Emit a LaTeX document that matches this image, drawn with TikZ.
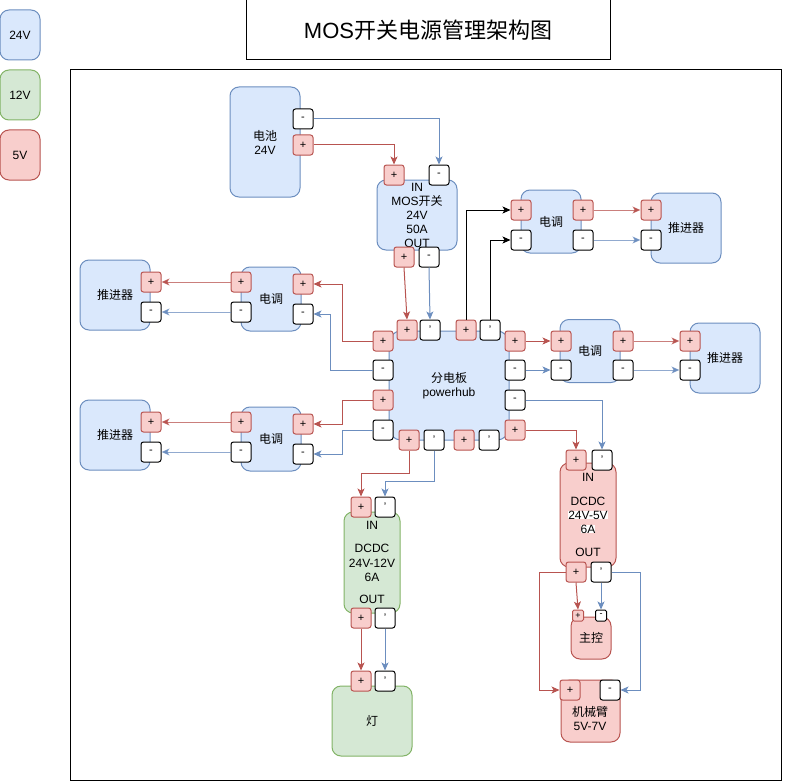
\documentclass[tikz,border=0pt]{standalone}
\usepackage{fontspec}
\setmainfont{Liberation Sans}
\newfontfamily\cjk{Noto Sans CJK SC}
\usetikzlibrary{arrows.meta}
\definecolor{bF}{HTML}{DAE8FC}\definecolor{bS}{HTML}{6C8EBF}
\definecolor{gF}{HTML}{D5E8D4}\definecolor{gS}{HTML}{82B366}
\definecolor{rF}{HTML}{F8CECC}\definecolor{rS}{HTML}{B85450}
\tikzset{
  body/.style={draw, line width=1pt, rounded corners=9pt, inner sep=0pt, align=center, font=\fontsize{12}{14}\selectfont},
  bb/.style={body, draw=bS, fill=bF},
  gb/.style={body, draw=gS, fill=gF},
  rb/.style={body, draw=rS, fill=rF},
  port/.style={draw, line width=1pt, rounded corners=2.5pt, minimum width=20pt, minimum height=20pt, inner sep=0pt, font=\fontsize{11}{11}\selectfont},
  pp/.style={port, draw=rS, fill=rF},
  pm/.style={port, draw=black, fill=white},
  spp/.style={pp, minimum width=11pt, minimum height=11pt, rounded corners=1.5pt, font=\fontsize{9}{9}\selectfont},
  spm/.style={pm, minimum width=11pt, minimum height=11pt, rounded corners=1.5pt, font=\fontsize{9}{9}\selectfont},
  txt/.style={inner sep=0pt, font=\fontsize{12}{14}\selectfont, align=center},
  wire/.style={line width=1pt, -{Stealth[length=8pt,width=7pt,inset=2pt]}},
  rw/.style={wire, draw=rS, color=rS},
  bw/.style={wire, draw=bS, color=bS},
  kw/.style={wire, draw=black, color=black},
  lr/.style={rw, draw opacity=0.75},
  lb/.style={bw, draw opacity=0.75},
}
\begin{document}
\begin{tikzpicture}[x=1pt,y=-1pt]
\useasboundingbox (0,0) rectangle (811,781);
% legend
\node[bb, minimum width=40pt, minimum height=50pt] (l24) at (20,35) {24V};
\node[gb, minimum width=40pt, minimum height=50pt] (l12) at (20,95) {12V};
\node[rb, minimum width=40pt, minimum height=50pt] (l5) at (20,155) {5V};
% title and frame
\node[draw, line width=1pt, minimum width=364pt, minimum height=60pt, font=\fontsize{22}{24}\selectfont] (title) at (428,30) {MOS{\cjk 开关电源管理架构图}};
\node[draw, line width=1pt, minimum width=711pt, minimum height=710pt] (frame) at (425.5,425) {};
% battery
\node[bb, minimum width=70pt, minimum height=110pt] (bat) at (265,142) {{\cjk 电池}\\24V};
% MOS switch
\node[bb, minimum width=80pt, minimum height=70pt] (mos) at (417,215) {};
\node[txt] (mostx) at (417,215) {IN\\MOS{\cjk 开关}\\24V\\50A\\OUT};
% powerhub
\node[bb, minimum width=120pt, minimum height=109pt, rounded corners=12pt] (ph) at (449,385.5) {{\cjk 分电板}\\powerhub};
% ESCs and thrusters
\node[bb, minimum width=60pt, minimum height=63pt] (escA) at (551,221.5) {\cjk 电调};
\node[bb, minimum width=70pt, minimum height=70pt] (thA) at (686,228) {\cjk 推进器};
\node[bb, minimum width=60pt, minimum height=64pt] (escB) at (271,299) {\cjk 电调};
\node[bb, minimum width=70pt, minimum height=70pt] (thB) at (115,295) {\cjk 推进器};
\node[bb, minimum width=60pt, minimum height=64pt] (escC) at (271,439) {\cjk 电调};
\node[bb, minimum width=70pt, minimum height=70pt] (thC) at (115,435) {\cjk 推进器};
\node[bb, minimum width=60pt, minimum height=63pt] (escD) at (590,351) {\cjk 电调};
\node[bb, minimum width=70pt, minimum height=70pt] (thD) at (725,358) {\cjk 推进器};
% DCDC 5V
\node[rb, minimum width=56pt, minimum height=104pt] (d5) at (588,515) {};
\node[txt] (d5a) at (588,477) {IN};
\node[txt] (d5b) at (588,501) {DCDC};
\node[txt, fill=white] (d5c) at (588,515) {24V-5V};
\node[txt, fill=white] (d5d) at (588,529) {6A};
\node[txt] (d5e) at (588,552) {OUT};
\node[rb, minimum width=40pt, minimum height=42pt] (zk) at (591,638) {\cjk 主控};
\node[rb, minimum width=59pt, minimum height=62pt] (jx) at (590.5,711) {};
\node[txt] (jxt) at (590,718.5) {{\cjk 机械臂}\\5V-7V};
% DCDC 12V
\node[gb, minimum width=56pt, minimum height=101pt] (d12) at (372,562.5) {};
\node[txt] (d12a) at (372,525) {IN};
\node[txt] (d12b) at (372,548) {DCDC};
\node[txt] (d12c) at (372,563) {24V-12V};
\node[txt] (d12d) at (372,577) {6A};
\node[txt] (d12e) at (372,599) {OUT};
\node[gb, minimum width=80pt, minimum height=70pt] (deng) at (372,721) {\cjk 灯};
% ports
\node[pm] (batM) at (303,119) {-};
\node[pp] (batP) at (303,145) {+};
\node[pp] (mosIP) at (394,175) {+};
\node[pm] (mosIM) at (439,175) {-};
\node[pp] (mosOP) at (404,257) {+};
\node[pm] (mosOM) at (429,257) {-};
\node[pp] (phT1) at (407,330) {+};
\node[pm] (phT2) at (430,330) {'};
\node[pp] (phT3) at (466,330) {+};
\node[pm] (phT4) at (490,330) {'};
\node[pp] (phL1) at (383,341) {+};
\node[pm] (phL2) at (383,370) {-};
\node[pp] (phL3) at (383,400) {+};
\node[pm] (phL4) at (383,430) {-};
\node[pp] (phR1) at (515,341) {+};
\node[pm] (phR2) at (515,370) {-};
\node[pm] (phR3) at (515,400) {-};
\node[pp] (phR4) at (515,430) {+};
\node[pp] (phB1) at (409,440) {+};
\node[pm] (phB2) at (434,440) {'};
\node[pp] (phB3) at (464,440) {+};
\node[pm] (phB4) at (489,440) {'};
\node[pp] (escAlP) at (521,210) {+};
\node[pm] (escAlM) at (521,240) {-};
\node[pp] (escArP) at (583,210) {+};
\node[pm] (escArM) at (583,240) {-};
\node[pp] (thAP) at (651,210) {+};
\node[pm] (thAM) at (651,240) {-};
\node[pp] (escBlP) at (241,282) {+};
\node[pm] (escBlM) at (241,312) {-};
\node[pp] (escBrP) at (303,284) {+};
\node[pm] (escBrM) at (303,314) {-};
\node[pp] (thBP) at (151,282) {+};
\node[pm] (thBM) at (151,312) {-};
\node[pp] (escClP) at (241,422) {+};
\node[pm] (escClM) at (241,452) {-};
\node[pp] (escCrP) at (303,424) {+};
\node[pm] (escCrM) at (303,454) {-};
\node[pp] (thCP) at (151,422) {+};
\node[pm] (thCM) at (151,452) {-};
\node[pp] (escDlP) at (561,341) {+};
\node[pm] (escDlM) at (561,370) {-};
\node[pp] (escDrP) at (623,341) {+};
\node[pm] (escDrM) at (623,370) {-};
\node[pp] (thDP) at (690,341) {+};
\node[pm] (thDM) at (690,370) {-};
\node[pp] (d5iP) at (576,460) {+};
\node[pm] (d5iM) at (602,460) {'};
\node[pp] (d5oP) at (576,572) {+};
\node[pm] (d5oM) at (601,572) {'};
\node[spp] (zkP) at (578,615.5) {+};
\node[spm] (zkM) at (601,615.5) {-};
\node[pp] (jxP) at (570,690) {+};
\node[pm] (jxM) at (610,690) {-};
\node[pp] (d12iP) at (361,507) {+};
\node[pm] (d12iM) at (385,507) {'};
\node[pp] (d12oP) at (361,618) {+};
\node[pm] (d12oM) at (385,618) {'};
\node[pp] (dP) at (361,681) {+};
\node[pm] (dM) at (385,681) {'};
% connectors
\draw[bw] (batM.east) -| (mosIM.north);
\draw[rw] (batP.east) -| (mosIP.north);
\draw[rw] (mosOP.south) -- (phT1.north);
\draw[bw] (mosOM.south) -- (phT2.north);
\draw[kw] (phT3.north) |- (escAlP.west);
\draw[kw] (phT4.north) |- (escAlM.west);
\draw[lr] (escArP.east) -- (thAP.west);
\draw[lb] (escArM.east) -- (thAM.west);
\draw[lr] (escBlP.west) -- (thBP.east);
\draw[lb] (escBlM.west) -- (thBM.east);
\draw[lr] (escClP.west) -- (thCP.east);
\draw[lb] (escClM.west) -- (thCM.east);
\draw[rw] (phL1.west) -- ++(-30,0) |- (escBrP.east);
\draw[bw] (phL2.west) -- ++(-42,0) |- (escBrM.east);
\draw[rw] (phL3.west) -- ++(-30,0) |- (escCrP.east);
\draw[bw] (phL4.west) -- ++(-30,0) |- (escCrM.east);
\draw[rw] (phR1.east) -- (escDlP.west);
\draw[bw] (phR2.east) -- (escDlM.west);
\draw[lr] (escDrP.east) -- (thDP.west);
\draw[lb] (escDrM.east) -- (thDM.west);
\draw[bw] (phR3.east) -| (d5iM.north);
\draw[rw] (phR4.east) -| (d5iP.north);
\draw[rw] (d5oP.south) -- (zkP.north);
\draw[bw] (d5oM.south) -- (zkM.north);
\draw[rw] (d5oP.west) -- ++(-26,0) |- (jxP.west);
\draw[bw] (d5oM.east) -- ++(29,0) |- (jxM.east);
\draw[rw] (phB1.south) -- ++(0,23) -| (d12iP.north);
\draw[bw] (phB2.south) -- ++(0,31) -| (d12iM.north);
\draw[rw] (d12oP.south) -- (dP.north);
\draw[bw] (d12oM.south) -- (dM.north);
\end{tikzpicture}
\end{document}
